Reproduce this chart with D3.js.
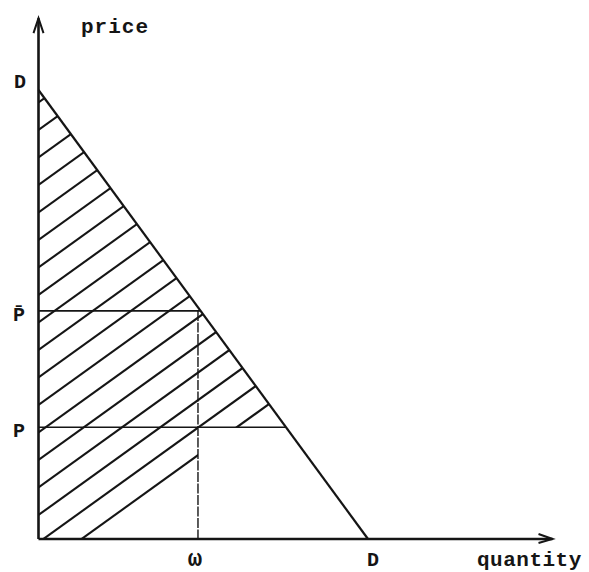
<!DOCTYPE html>
<html>
<head>
<meta charset="utf-8">
<script src="https://cdn.jsdelivr.net/npm/d3@7"></script>
<style>
  body { margin: 0; background: #fff; }
  text { font-family: "Liberation Mono", "DejaVu Sans Mono", monospace; font-weight: bold; fill: #151515; }
</style>
</head>
<body>
<svg id="chart" width="589" height="572"></svg>
<script>
// demand curve D-D (quantity, price)
const demandQty = [0, 10];
const demandPrice = [10, 0];
// price levels marked on the vertical axis
const priceLabels = ["P\u0304", "P"];
const priceValues = [5.08, 2.49];
// quantity marks on the horizontal axis
const qtyLabels = ["\u03c9", "D"];
const qtyValues = [4.84, 10];
const axisMax = { qty: 15.6, price: 11.6 };

const svg = d3.select("#chart");
const ink = "#151515";

const x = d3.scaleLinear().domain([0, 10]).range([38.5, 368]);
const y = d3.scaleLinear().domain([0, 10]).range([539, 90]);

const demandAt = p => demandQty[1] * (1 - p / demandPrice[0]);
const omega = qtyValues[0];
const pLow = priceValues[1];

// hatched region: under the demand curve down to P, then left of omega
const hatchArea = [
  [0, demandPrice[0]],
  [demandAt(pLow), pLow],
  [omega, pLow],
  [omega, 0],
  [0, 0]
];

const defs = svg.append("defs");
defs.append("clipPath").attr("id", "hatch-clip")
  .append("path")
  .attr("d", d3.line().x(d => x(d[0])).y(d => y(d[1]))(hatchArea) + "Z");

// diagonal hatching
const slope = 0.72, gap = 27.5, y0 = 515;
svg.append("g")
  .attr("clip-path", "url(#hatch-clip)")
  .selectAll("line")
  .data(d3.range(-2, 20))
  .enter().append("line")
  .attr("x1", x(0))
  .attr("y1", k => y0 - gap * k)
  .attr("x2", x(0) + 600)
  .attr("y2", k => y0 - gap * k - 600 * slope)
  .attr("stroke", ink)
  .attr("stroke-width", 2.1);

// horizontal price lines out to the demand curve
svg.append("g").selectAll("line")
  .data(priceValues)
  .enter().append("line")
  .attr("x1", x(0))
  .attr("x2", p => x(demandAt(p)))
  .attr("y1", p => y(p))
  .attr("y2", p => y(p))
  .attr("stroke", ink)
  .attr("stroke-width", 1.6);

// vertical line at omega
svg.append("line")
  .attr("x1", x(omega)).attr("x2", x(omega))
  .attr("y1", y(priceValues[0])).attr("y2", y(0))
  .attr("stroke", ink)
  .attr("stroke-width", 1.4)
  .attr("stroke-dasharray", "10,1.5");

// demand curve
svg.append("path")
  .datum(d3.zip(demandQty, demandPrice))
  .attr("d", d3.line().x(d => x(d[0])).y(d => y(d[1])))
  .attr("fill", "none")
  .attr("stroke", ink)
  .attr("stroke-width", 2.2);

// axes with arrowheads
svg.append("line")
  .attr("x1", x(0)).attr("y1", y(0))
  .attr("x2", x(0)).attr("y2", y(axisMax.price))
  .attr("stroke", ink).attr("stroke-width", 2.6);
svg.append("line")
  .attr("x1", x(0)).attr("y1", y(0))
  .attr("x2", x(axisMax.qty)).attr("y2", y(0))
  .attr("stroke", ink).attr("stroke-width", 2.6);

const tipY = [x(0), y(axisMax.price)];
svg.append("path")
  .attr("d", `M${tipY[0] - 5},${tipY[1] + 15} L${tipY[0]},${tipY[1]} L${tipY[0] + 5},${tipY[1] + 15}`)
  .attr("fill", "none").attr("stroke", ink).attr("stroke-width", 2);
const tipX = [x(axisMax.qty), y(0)];
svg.append("path")
  .attr("d", `M${tipX[0] - 14},${tipX[1] - 5} L${tipX[0]},${tipX[1]} L${tipX[0] - 14},${tipX[1] + 4}`)
  .attr("fill", "none").attr("stroke", ink).attr("stroke-width", 2);

// labels
svg.append("text").attr("x", 81).attr("y", 33).attr("font-size", 21)
  .attr("letter-spacing", 1).text("price");
svg.append("text").attr("x", 477).attr("y", 566).attr("font-size", 21)
  .attr("letter-spacing", 0.5).text("quantity");

svg.append("text")
  .attr("x", 20).attr("y", y(demandPrice[0]) - 2)
  .attr("text-anchor", "middle").attr("font-size", 20)
  .text("D");

svg.append("g").selectAll("text")
  .data(priceValues)
  .enter().append("text")
  .attr("x", 19)
  .attr("y", p => y(p) + 10)
  .attr("text-anchor", "middle")
  .attr("font-size", 20)
  .text((p, i) => priceLabels[i]);

svg.append("g").selectAll("text")
  .data(qtyValues)
  .enter().append("text")
  .attr("x", (q, i) => x(q) + (i === 0 ? -3 : 5))
  .attr("y", 566)
  .attr("text-anchor", "middle")
  .attr("font-size", (q, i) => i === 0 ? 24 : 20)
  .text((q, i) => qtyLabels[i]);
</script>
</body>
</html>
